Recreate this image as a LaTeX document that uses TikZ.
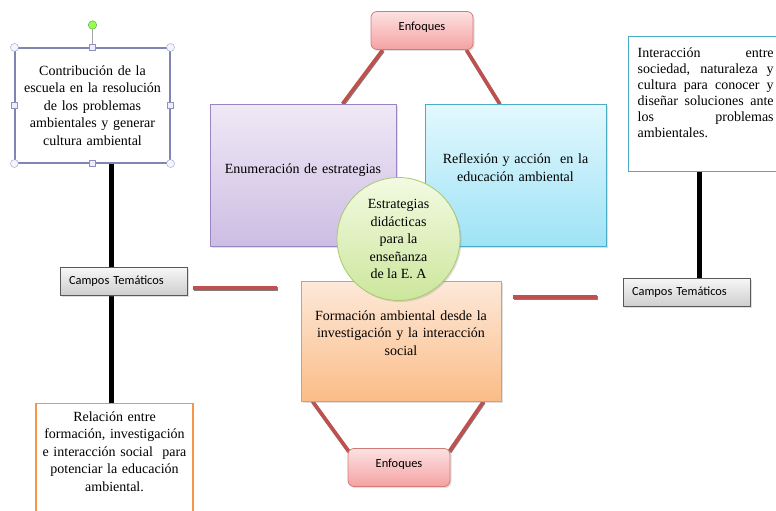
\documentclass[tikz,border=0pt]{standalone}
\usepackage{fontspec}
\setmainfont{Liberation Serif}
\newfontfamily\calibri{Carlito}
\usetikzlibrary{positioning,shadows,backgrounds}
\definecolor{rojoenf}{HTML}{C0504D}
\definecolor{lilaborde}{HTML}{9A85C2}
\definecolor{lilaclaro}{HTML}{EFE9F6}
\definecolor{lilaoscuro}{HTML}{CDBDE3}
\definecolor{celesteborde}{HTML}{4BACC6}
\definecolor{celesteclaro}{HTML}{E3F8FD}
\definecolor{celesteoscuro}{HTML}{9EE3F6}
\definecolor{naranjaborde}{HTML}{F79646}
\definecolor{naranjaclaro}{HTML}{FDE9DA}
\definecolor{naranjaoscuro}{HTML}{FBBC86}
\definecolor{verdeborde}{HTML}{A9C96B}
\definecolor{verdeclaro}{HTML}{F3FAE2}
\definecolor{verdeoscuro}{HTML}{CCE69C}
\definecolor{rosaclaro}{HTML}{FCE1E1}
\definecolor{rosaoscuro}{HTML}{F5A2A2}
\definecolor{azulsel}{HTML}{7F86B5}
% alarga la ultima linea hacia abajo
\newcommand{\subir}[1]{\rule[-#1]{0pt}{#1}}

\begin{document}
\begin{tikzpicture}[x=1pt, y=-1pt,
    texto/.style={font=\fontsize{14}{17.5}\selectfont, align=center},
    sombra/.style={drop shadow={opacity=0.25, shadow xshift=1.5pt, shadow yshift=-1.5pt}},
    bloque/.style={rectangle, inner sep=0pt, line width=0.8pt, texto, sombra},
    tema/.style={rectangle, draw=black!65, top color=gray!6, bottom color=gray!38,
                 minimum width=127pt, minimum height=28pt, text width=109pt,
                 inner xsep=9pt, inner ysep=0pt, align=left,
                 font=\calibri\fontsize{12.4}{15}\selectfont, sombra},
    enfoque/.style={rectangle, rounded corners=6pt, draw=rojoenf!75, line width=0.8pt,
                 top color=rosaclaro, bottom color=rosaoscuro,
                 minimum width=102pt, minimum height=38pt, inner sep=0pt, text depth=9pt,
                 font=\calibri\fontsize{12.4}{15}\selectfont, sombra},
    hoja/.style={rectangle, draw, line width=1.3pt, fill=white, texto},
    enlace/.style={draw=rojoenf, line width=3.5pt,
                 preaction={draw=black!50, line width=3.5pt, transform canvas={xshift=.5pt, yshift=-1pt}}},
    tallo/.style={draw=black, line width=5pt},
    asa/.style={circle, draw=azulsel!80, fill=blue!4, minimum size=8pt, inner sep=0pt},
    asacuad/.style={rectangle, draw=azulsel!90, fill=blue!7, minimum size=6pt, inner sep=0pt}
]
\useasboundingbox (0,0) rectangle (776,511);
\clip (0,0) rectangle (776,511);

% lado izquierdo
\node[hoja, draw=azulsel, line width=1.1pt, minimum width=155pt, minimum height=115pt,
      text width=142pt, inner sep=0pt] (contrib) at (92.5,105.5)
      {Contribución de la\\ escuela en la resolución\\ de los problemas\\ ambientales y generar\\ cultura ambiental};
\node[tema] (campL) at (123.5,281) {Campos Temáticos};
\node[hoja, draw=naranjaborde, anchor=north, text width=151pt, inner xsep=3pt, inner ysep=8pt] (relacion) at (114.5,403)
      {Relación entre\\ formación, investigación\\ e interacción social\ \ para\\ potenciar la educación\\ ambiental.\subir{35pt}};

% selección del cuadro
\foreach \a/\n in {north west/hnw, north east/hne, south west/hsw, south east/hse}
  \node[asa] (\n) at (contrib.\a) {};
\foreach \a/\n in {north/hn, south/hs, east/he, west/hw}
  \node[asacuad] (\n) at (contrib.\a) {};
\node[circle, draw=green!50!black!70, fill=green!60!yellow!70, minimum size=8.5pt, inner sep=0pt] (giro) at (92.5,25) {};

% centro
\node[enfoque] (enfTop) at (422,30.5) {Enfoques};
\node[bloque, draw=lilaborde, top color=lilaclaro, bottom color=lilaoscuro,
      minimum width=186pt, minimum height=142pt, text width=175pt] (enum) at (303,175)
      {Enumeración de estrategias\subir{12pt}};
\node[bloque, draw=celesteborde, top color=celesteclaro, bottom color=celesteoscuro,
      minimum width=181pt, minimum height=142pt, text width=170pt] (reflex) at (515.5,175)
      {Reflexión y acción\ \ en la\\ educación ambiental\subir{15pt}};
\node[bloque, draw=naranjaborde, top color=naranjaclaro, bottom color=naranjaoscuro,
      minimum width=200pt, minimum height=120pt, text width=185pt] (forma) at (401,341)
      {Formación ambiental desde la\\ investigación y la interacción\\ social\subir{16pt}};
\node[circle, draw=verdeborde, line width=0.8pt, top color=verdeclaro, bottom color=verdeoscuro,
      minimum size=123pt, inner sep=0pt, texto, sombra] (estrat) at (398.5,239)
      {Estrategias\\ didácticas\\ para la\\ enseñanza\\ de la E. A};
\node[enfoque] (enfBot) at (399,467.5) {Enfoques};

% lado derecho
\node[hoja, draw=celesteborde, anchor=north west, text width=136pt, inner xsep=9pt, inner ysep=0pt,
      minimum height=135pt, align=justify, font=\fontsize{14}{16}\selectfont] (interac) at (628,36)
      {Interacción entre\linebreak sociedad, naturaleza y\linebreak cultura para conocer y\linebreak
       diseñar soluciones ante\linebreak los problemas\linebreak ambientales.\subir{23pt}};
\node[tema] (campR) at (686.5,292) {Campos Temáticos};

\coordinate (ligaL1) at (193,288);
\coordinate (ligaL2) at (277,288);
\coordinate (ligaR1) at (513,297);
\coordinate (ligaR2) at (597,297);

\begin{scope}[on background layer]
\draw[tallo] ([xshift=18.5pt]contrib.south) -- ([xshift=18.5pt]contrib.south |- relacion.north);
\draw[tallo] ([xshift=12.5pt]campR.north) -- ([xshift=12.5pt]campR.north |- interac.south);
\draw[enlace] ([xshift=12pt]enfTop.south west) -- ([xshift=133pt]enum.north west);
\draw[enlace] ([xshift=-7pt]enfTop.south east) -- ([xshift=75pt]reflex.north west);
\draw[enlace] ([xshift=12pt]forma.south west) -- ([xshift=1pt,yshift=-3pt]enfBot.north west);
\draw[enlace] ([xshift=-18pt]forma.south east) -- ([xshift=-1pt,yshift=-3pt]enfBot.north east);
\draw[enlace] (ligaL1) -- (ligaL2);
\draw[enlace] (ligaR1) -- (ligaR2);
\draw[gray!70, line width=0.8pt] (giro) -- (hn);
\end{scope}
\end{tikzpicture}
\end{document}
